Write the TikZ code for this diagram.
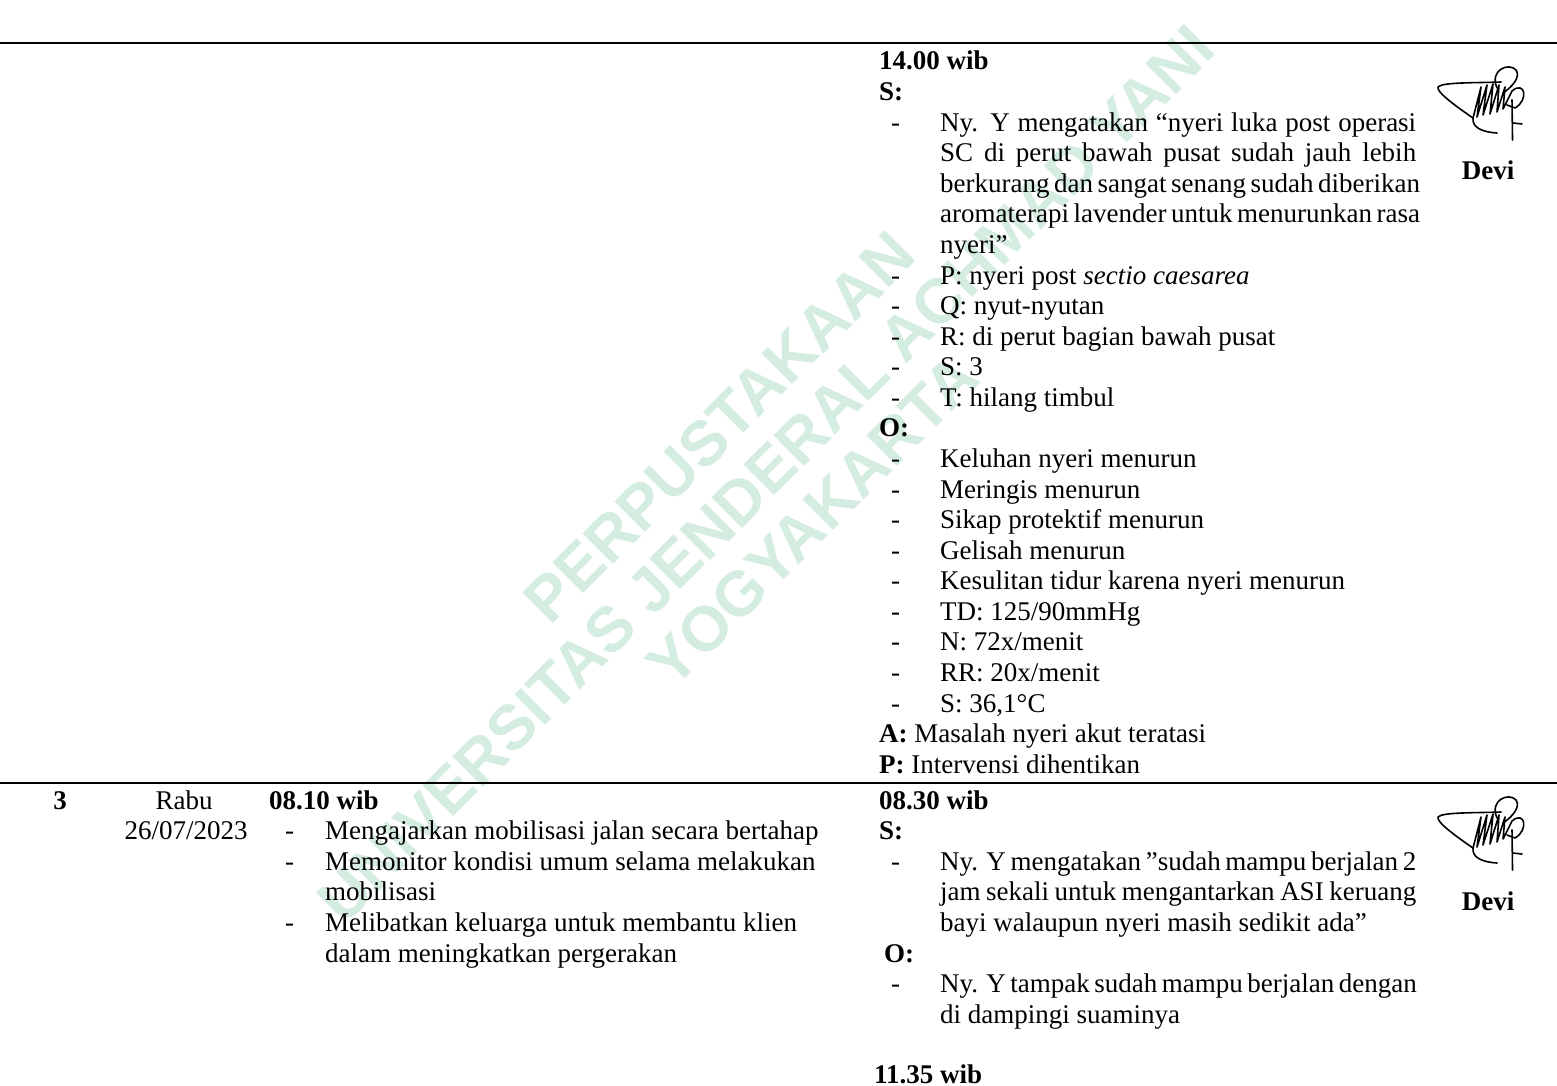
\documentclass[tikz,border=0pt]{standalone}
\usepackage{fontspec}
\setmainfont{Liberation Serif}
\newfontfamily\wmfont{Liberation Sans}
\definecolor{wmgreen}{RGB}{213,236,224}
\tikzset{
  txt/.style={anchor=base west, inner sep=0pt, font=\fontsize{27}{30.6}\selectfont},
  btxt/.style={anchor=base west, inner sep=0pt, font=\fontsize{27}{30.6}\selectfont\bfseries},
  ctxt/.style={anchor=base, inner sep=0pt, font=\fontsize{27}{30.6}\selectfont},
  cbtxt/.style={anchor=base, inner sep=0pt, font=\fontsize{27}{30.6}\selectfont\bfseries},
  rule/.style={line width=2pt},
  sigline/.style={line width=1.6pt, line cap=round, line join=round},
  sig/.pic={
    \draw[sigline] (60,23) .. controls (52,5) and (72,-3) .. (79,5) .. controls (84,12) and (75,22) .. (66,28);
    \draw[sigline] (64,17) .. controls (40,18) and (5,17) .. (1,22) .. controls (-1,27) and (20,42) .. (36,53);
    \draw[sigline] (36,53) -- (44,22) -- (40,52) -- (50,20) -- (46,50) -- (56,19) -- (53,49) -- (62,20) -- (60,47) -- (68,22) -- (66,44) -- (75,26) .. controls (88,15) and (92,35) .. (78,43) -- (70,40);
    \draw[sigline] (75,35) -- (75.5,75);
    \draw[sigline] (36,53) .. controls (35,62) and (44,67) .. (60,68);
    \draw[sigline] (76,58) -- (85,59);
  }
}
\begin{document}
\begin{tikzpicture}[x=1pt,y=-1pt]
\useasboundingbox (0,0) rectangle (1557,1086);
% watermark
\node[rotate=45, text=wmgreen, font=\wmfont\bfseries\fontsize{63}{66}\selectfont, align=center, inner sep=0pt] (wm) at (766,474) {PERPUSTAKAAN\\UNIVERSITAS JENDERAL ACHMAD YANI\\YOGYAKARTA};
% rules
\coordinate (r1w) at (0,43); \coordinate (r1e) at (1557,43);
\coordinate (r2w) at (0,783); \coordinate (r2e) at (1557,783);
\draw[rule] (r1w) -- (r1e);
\draw[rule] (r2w) -- (r2e);
% ---- top evaluation block
\node[btxt] (t0) at (879,70.0) {14.00 wib};
\node[btxt] (t1) at (879,100.6) {S:};
\node[txt] (d2) at (891,131.1) {-};
\node[txt] (t2) at (940,131.1) {\makebox[476pt][s]{Ny. Y mengatakan “nyeri luka post operasi}};
\node[txt] (t3) at (940,161.7) {\makebox[476pt][s]{SC di perut bawah pusat sudah jauh lebih}};
\node[txt] (t4) at (940,192.3) {\makebox[476pt][s]{berkurang dan sangat senang sudah diberikan}};
\node[txt] (t5) at (940,222.9) {\makebox[476pt][s]{aromaterapi lavender untuk menurunkan rasa}};
\node[txt] (t6) at (940,253.4) {nyeri”};
\node[txt] (d7) at (891,284.0) {-};
\node[txt] (t7) at (940,284.0) {P: nyeri post \textit{sectio caesarea}};
\node[txt] (d8) at (891,314.6) {-};
\node[txt] (t8) at (940,314.6) {Q: nyut-nyutan};
\node[txt] (d9) at (891,345.1) {-};
\node[txt] (t9) at (940,345.1) {R: di perut bagian bawah pusat};
\node[txt] (d10) at (891,375.7) {-};
\node[txt] (t10) at (940,375.7) {S: 3};
\node[txt] (d11) at (891,406.3) {-};
\node[txt] (t11) at (940,406.3) {T: hilang timbul};
\node[btxt] (t12) at (879,436.8) {O:};
\node[txt] (d13) at (891,467.4) {-};
\node[txt] (t13) at (940,467.4) {Keluhan nyeri menurun};
\node[txt] (d14) at (891,498.0) {-};
\node[txt] (t14) at (940,498.0) {Meringis menurun};
\node[txt] (d15) at (891,528.6) {-};
\node[txt] (t15) at (940,528.6) {Sikap protektif menurun};
\node[txt] (d16) at (891,559.1) {-};
\node[txt] (t16) at (940,559.1) {Gelisah menurun};
\node[txt] (d17) at (891,589.7) {-};
\node[txt] (t17) at (940,589.7) {Kesulitan tidur karena nyeri menurun};
\node[txt] (d18) at (891,620.3) {-};
\node[txt] (t18) at (940,620.3) {TD: 125/90mmHg};
\node[txt] (d19) at (891,650.8) {-};
\node[txt] (t19) at (940,650.8) {N: 72x/menit};
\node[txt] (d20) at (891,681.4) {-};
\node[txt] (t20) at (940,681.4) {RR: 20x/menit};
\node[txt] (d21) at (891,712.0) {-};
\node[txt] (t21) at (940,712.0) {S: 36,1°C};
\node[txt] (t22) at (879,742.5) {\textbf{A:} Masalah nyeri akut teratasi};
\node[txt] (t23) at (879,773.1) {\textbf{P:} Intervensi dihentikan};
% signature 1
\pic at (1437,65) {sig};
\node[cbtxt] (devi1) at (1488,179) {Devi};
% ---- bottom row
\node[cbtxt] (no3) at (60,809) {3};
\node[ctxt] (day) at (184,809) {Rabu};
\node[ctxt] (date) at (186,839.6) {26/07/2023};
\node[btxt] (i0) at (269,809) {08.10 wib};
\node[txt] (id1) at (285,839.6) {-};
\node[txt] (i1) at (325,839.6) {Mengajarkan mobilisasi jalan secara bertahap};
\node[txt] (id2) at (285,870.2) {-};
\node[txt] (i2) at (325,870.2) {Memonitor kondisi umum selama melakukan};
\node[txt] (i3) at (325,900.8) {mobilisasi};
\node[txt] (id4) at (285,931.4) {-};
\node[txt] (i4) at (325,931.4) {Melibatkan keluarga untuk membantu klien};
\node[txt] (i5) at (325,962.0) {dalam meningkatkan pergerakan};
% evaluation bottom
\node[btxt] (e0) at (879,809) {08.30 wib};
\node[btxt] (e1) at (879,839.6) {S:};
\node[txt] (ed2) at (891,870.2) {-};
\node[txt] (e2) at (940,870.2) {\makebox[476pt][s]{Ny. Y mengatakan ”sudah mampu berjalan 2}};
\node[txt] (e3) at (940,900.8) {\makebox[476pt][s]{jam sekali untuk mengantarkan ASI keruang}};
\node[txt] (e4) at (940,931.4) {bayi walaupun nyeri masih sedikit ada”};
\node[btxt] (e5) at (884,962.0) {O:};
\node[txt] (ed6) at (891,992.6) {-};
\node[txt] (e6) at (940,992.6) {\makebox[476pt][s]{Ny. Y tampak sudah mampu berjalan dengan}};
\node[txt] (e7) at (940,1023.2) {di dampingi suaminya};
\node[btxt] (e9) at (874,1083) {11.35 wib};
% signature 2
\pic at (1437,795) {sig};
\node[cbtxt] (devi2) at (1488,910) {Devi};
\end{tikzpicture}
\end{document}
